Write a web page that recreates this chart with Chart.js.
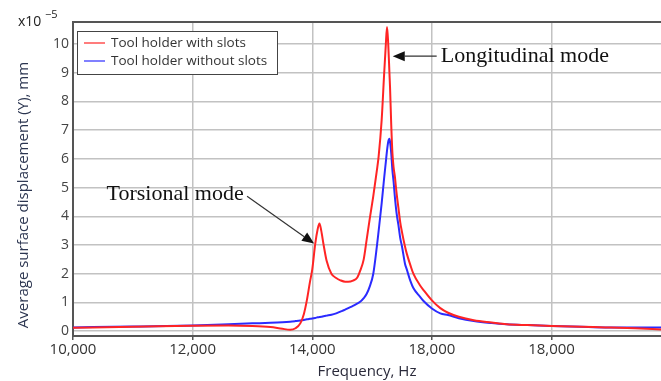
<!DOCTYPE html>
<html lang="en">
<head>
    <meta charset="UTF-8">
    <title>Displacement vs frequency</title>
    <style>
        body { margin: 0; background: #fff; }
        #wrap { width: 661px; height: 381px; position: relative; }
    </style>
</head>
<body>
    <div id="wrap"><canvas id="chart"></canvas></div>
    <script src="https://cdn.jsdelivr.net/npm/chart.js"></script>
    <script>
        // frequency (Hz) shared by both curves
        const freq = [10000, 11000, 12000, 12600, 13000, 13300, 13500, 13630, 13720, 13800, 13860, 13910, 13960, 14000,
            14050, 14090, 14120, 14150, 14190, 14240, 14320, 14400, 14470, 14550, 14600, 14680, 14750, 14800, 14860,
            14910, 14960, 15020, 15080, 15110, 15160, 15200, 15230, 15250, 15270, 15290, 15300, 15320, 15340, 15360,
            15380, 15410, 15440, 15470, 15500, 15550, 15580, 15640, 15690, 15800, 15860, 16000, 16140, 16270, 16450,
            16700, 17000, 17250, 17600, 18000, 18500, 18900, 19400, 19830];

        // displacement, x10^-5 mm
        const withSlots = [0.12, 0.15, 0.19, 0.2, 0.18, 0.14, 0.08, 0.05, 0.1, 0.27, 0.6, 1.08, 1.7, 2.15,
            3.05, 3.55, 3.75, 3.5, 3.0, 2.45, 2.0, 1.85, 1.77, 1.72, 1.72, 1.76, 1.86, 2.1, 2.5,
            3.2, 3.9, 4.7, 5.6, 6.1, 7.35, 8.9, 10.0, 10.6, 10.0, 9.0, 8.5, 7.2, 6.2, 5.7,
            5.4, 4.8, 4.3, 3.8, 3.45, 2.95, 2.7, 2.3, 2.0, 1.6, 1.43, 1.07, 0.8, 0.64, 0.5,
            0.38, 0.3, 0.24, 0.21, 0.18, 0.15, 0.13, 0.1, 0.06];

        const withoutSlots = [0.13, 0.16, 0.2, 0.24, 0.27, 0.29, 0.31, 0.33, 0.35, 0.37, 0.39, 0.41, 0.43, 0.44,
            0.46, 0.48, 0.49, 0.5, 0.52, 0.54, 0.57, 0.62, 0.68, 0.75, 0.8, 0.88, 0.96, 1.02, 1.15,
            1.3, 1.55, 2.0, 2.95, 3.5, 4.45, 5.3, 5.9, 6.3, 6.6, 6.7, 6.6, 6.2, 5.6, 5.2,
            4.7, 4.1, 3.7, 3.25, 2.95, 2.35, 2.15, 1.75, 1.5, 1.2, 1.05, 0.79, 0.62, 0.56, 0.45,
            0.35, 0.28, 0.24, 0.21, 0.18, 0.15, 0.13, 0.13, 0.13];

        const xTicks = [10000, 12000, 14000, 16000, 18000];
        const xLabels = ['10,000', '12,000', '14,000', '18,000', '18,000'];
        const yTicks = [0, 1, 2, 3, 4, 5, 6, 7, 8, 9, 10];

        const seriesNames = ['Tool holder with slots', 'Tool holder without slots'];
        const seriesColors = ['#ff2424', '#2b2bff'];
        const yTitle = 'Average surface displacement (Y), mm';

        // annotation anchors in data units
        const notes = [
            { text: 'Longitudinal mode', tip: [15345, 9.58], tail: [16080, 9.58], at: [16150, 9.58] },
            { text: 'Torsional mode', tip: [14030, 3.05], tail: [12910, 4.7], at: [10560, 4.78] }
        ];

        const sans = "'Open Sans', 'DejaVu Sans', sans-serif";
        const gridColor = '#c2c2c2';

        const pts = arr => arr.map((v, i) => ({ x: freq[i], y: v }));

        const overlay = {
            id: 'overlay',
            afterDraw(chart) {
                const c = chart.ctx, a = chart.chartArea;
                const xs = chart.scales.x, ys = chart.scales.y;
                c.save();
                // top frame line
                c.strokeStyle = '#555';
                c.lineWidth = 2;
                c.beginPath(); c.moveTo(a.left, a.top); c.lineTo(a.right, a.top); c.stroke();

                // y axis title
                c.save();
                c.translate(24, 195);
                c.rotate(-Math.PI / 2);
                c.fillStyle = '#2b3550';
                c.font = '15px ' + sans;
                c.textAlign = 'center';
                c.textBaseline = 'middle';
                c.fillText(yTitle, 0, 0);
                c.restore();

                // x10^-5 label
                c.fillStyle = '#222';
                c.font = '14px ' + sans;
                c.textBaseline = 'alphabetic';
                c.textAlign = 'left';
                c.fillText('x10', 18, 26);
                c.font = '11px ' + sans;
                c.fillText('\u22125', 45, 18);

                // legend box
                const lx = a.left + 4, ly = a.top + 9, lw = 200, lh = 43;
                c.fillStyle = '#fff';
                c.fillRect(lx, ly, lw, lh);
                c.strokeStyle = '#444';
                c.lineWidth = 1;
                c.strokeRect(lx + 0.5, ly + 0.5, lw, lh);
                c.font = '13.5px ' + sans;
                c.textBaseline = 'middle';
                seriesNames.forEach((name, i) => {
                    const yy = ly + 12 + i * 18;
                    c.strokeStyle = seriesColors[i];
                    c.lineWidth = 1.2;
                    c.beginPath(); c.moveTo(lx + 7, yy); c.lineTo(lx + 28, yy); c.stroke();
                    c.fillStyle = '#333';
                    c.fillText(name, lx + 34, yy);
                });

                // annotations with arrows
                c.font = "22px 'Liberation Serif', 'DejaVu Serif', serif";
                c.textBaseline = 'middle';
                notes.forEach(n => {
                    const tx = xs.getPixelForValue(n.tip[0]), ty = ys.getPixelForValue(n.tip[1]);
                    const sx = xs.getPixelForValue(n.tail[0]), sy = ys.getPixelForValue(n.tail[1]);
                    const ang = Math.atan2(ty - sy, tx - sx);
                    const hl = 12, hw = 5;
                    c.strokeStyle = '#333';
                    c.fillStyle = '#111';
                    c.lineWidth = 1.2;
                    c.beginPath();
                    c.moveTo(sx, sy);
                    c.lineTo(tx - Math.cos(ang) * hl, ty - Math.sin(ang) * hl);
                    c.stroke();
                    c.beginPath();
                    c.moveTo(tx, ty);
                    c.lineTo(tx - Math.cos(ang) * hl - Math.sin(ang) * hw, ty - Math.sin(ang) * hl + Math.cos(ang) * hw);
                    c.lineTo(tx - Math.cos(ang) * hl + Math.sin(ang) * hw, ty - Math.sin(ang) * hl - Math.cos(ang) * hw);
                    c.closePath();
                    c.fill();
                    c.fillText(n.text, xs.getPixelForValue(n.at[0]), ys.getPixelForValue(n.at[1]));
                });
                c.restore();
            }
        };

        new Chart(document.getElementById('chart'), {
            type: 'line',
            data: {
                datasets: [
                    { label: seriesNames[0], data: pts(withSlots), borderColor: seriesColors[0], borderWidth: 2, pointRadius: 0, cubicInterpolationMode: 'monotone', fill: false },
                    { label: seriesNames[1], data: pts(withoutSlots), borderColor: seriesColors[1], borderWidth: 2, pointRadius: 0, cubicInterpolationMode: 'monotone', fill: false }
                ]
            },
            options: {
                responsive: true,
                maintainAspectRatio: false,
                animation: false,
                layout: { padding: { top: 22, right: 0, left: 0, bottom: 0 } },
                plugins: { legend: { display: false }, tooltip: { enabled: false } },
                scales: {
                    x: {
                        type: 'linear',
                        min: 10000,
                        max: 19830,
                        afterBuildTicks: s => { s.ticks = xTicks.map(v => ({ value: v })); },
                        afterFit: s => { s.height = 45; },
                        ticks: {
                            callback: (v, i) => xLabels[i],
                            color: '#333',
                            font: { family: sans, size: 15 },
                            padding: 1,
                            maxRotation: 0
                        },
                        grid: { color: gridColor, lineWidth: 1.5, tickLength: 4, tickColor: '#555' },
                        border: { color: '#555', width: 2 },
                        title: { display: true, text: 'Frequency, Hz', color: '#2a2a3a', font: { family: sans, size: 15 }, padding: { top: 0, bottom: 0 } }
                    },
                    y: {
                        min: -0.17,
                        max: 10.77,
                        afterBuildTicks: s => { s.ticks = yTicks.map(v => ({ value: v })); },
                        afterFit: s => { s.width = 73; },
                        ticks: {
                            color: '#444',
                            font: { family: sans, size: 14 },
                            padding: 4
                        },
                        grid: { color: gridColor, lineWidth: 1.5, drawTicks: false },
                        border: { color: '#555', width: 2 },
                        title: { display: false }
                    }
                }
            },
            plugins: [overlay]
        });
    </script>
</body>
</html>
